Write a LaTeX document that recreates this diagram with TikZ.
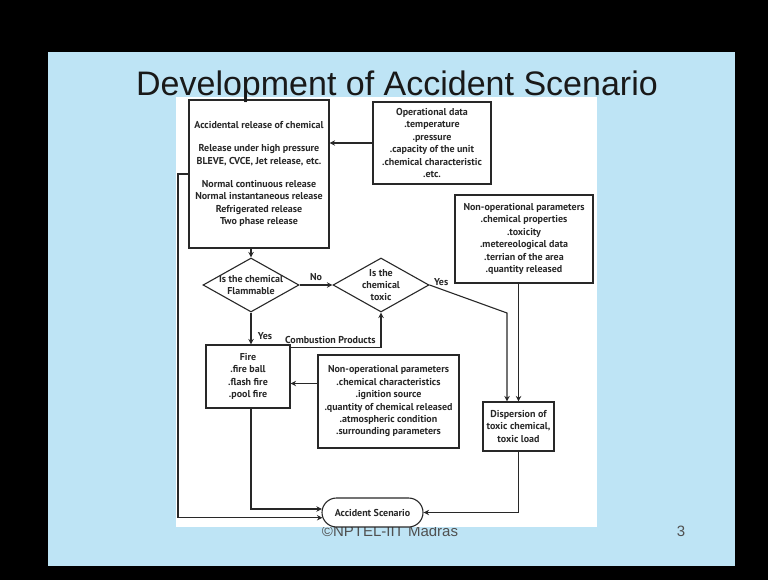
\documentclass[tikz,border=0pt]{standalone}
\usepackage{fontspec}
\setmainfont{PT Sans}
\newfontfamily\titlefont{Liberation Sans}
\usetikzlibrary{shapes.geometric,shapes.misc,arrows.meta}
\definecolor{slideblue}{RGB}{190,228,245}
\definecolor{ink}{RGB}{40,40,40}
\definecolor{footgrey}{RGB}{80,80,80}
\tikzset{
  box/.style={draw=ink, line width=1.1pt, align=center, inner sep=0pt,
    font=\bfseries\fontsize{10}{12.4}\selectfont},
  decision/.style={diamond, draw=ink, line width=1.1pt, inner sep=0pt,
    minimum width=96pt, minimum height=54pt},
  inside/.style={align=center, font=\bfseries\fontsize{10}{12}\selectfont},
  lbl/.style={font=\bfseries\fontsize{10}{11}\selectfont},
}
\begin{document}
\begin{tikzpicture}[x=1pt, y=-1pt, color=ink, line width=1.1pt,
    >={Stealth[length=5.5pt,width=5.5pt]}]
  \useasboundingbox (0,0) rectangle (768,580);
  % slide
  \fill[black] (0,0) rectangle (768,580);
  \fill[slideblue] (48,52) rectangle (735,566);
  \node[font=\titlefont\fontsize{15}{18}\selectfont, text=footgrey, anchor=base] (footer) at (390,536) {©NPTEL-IIT Madras};
  \node[font=\titlefont\fontsize{15}{18}\selectfont, text=footgrey, anchor=base] (pageno) at (681,536) {3};
  \fill[white] (176,97) rectangle (597,527);

  % boxes
  \node[box, minimum width=140pt, minimum height=148pt] (release) at (259,174)
    {Accidental release of chemical\\[11pt] Release under high pressure\\ BLEVE, CVCE, Jet release, etc.\\[11pt]
     Normal continuous release\\ Normal instantaneous release\\ Refrigerated release\\ Two phase release};
  \node[box, minimum width=118pt, minimum height=82pt] (opdata) at (432,143)
    {Operational data\\ .temperature\\ .pressure\\ .capacity of the unit\\ .chemical characteristic\\ .etc.};
  \node[box, minimum width=138pt, minimum height=88pt] (toxparam) at (524,239)
    {Non-operational parameters\\ .chemical properties\\ .toxicity\\ .metereological data\\ .terrian of the area\\ .quantity released};
  \node[decision, label={[inside]center:Is the chemical\\ Flammable}] (flam) at (251,285) {};
  \node[decision, label={[inside]center:Is the\\ chemical\\ toxic}] (tox) at (381,285) {};
  \node[box, minimum width=84pt, minimum height=63pt] (fire) at (248,376.5)
    {Fire\\ .fire ball\\ .flash fire\\ .pool fire};
  \node[box, minimum width=141pt, minimum height=93pt] (fireparam) at (388.5,401.5)
    {Non-operational parameters\\ .chemical characteristics\\ .ignition source\\ .quantity of chemical released\\ .atmospheric condition\\ .surrounding parameters};
  \node[box, minimum width=71pt, minimum height=49pt] (disp) at (518.5,426.5)
    {Dispersion of\\ toxic chemical,\\ toxic load};
  \node[box, rounded rectangle, minimum width=101pt, minimum height=29pt] (scen) at (372.5,512.5)
    {Accident Scenario};
  \coordinate (lft) at (178,174);
  \coordinate (bend) at (507,313);

  % connectors
  \draw[->] (opdata.west) -- (opdata.west -| release.east);
  \draw[->] (flam.north |- release.south) -- (flam.north);
  \draw[->] (flam.east) to node[lbl, above] {No} (tox.west);
  \draw[->] (flam.south) to node[lbl, right=3pt, pos=0.75] {Yes} (flam.south |- fire.north);
  \draw[->] ([yshift=-3pt]fire.north east) -| node[lbl, above, pos=0.22] {Combustion Products} (tox.south);
  \draw[->] ([yshift=18pt]fireparam.west) -- ([yshift=18pt]fireparam.west -| fire.east);
  \draw[->] (tox.east) -- node[lbl, above, pos=0.15] {Yes} (bend) -- (bend |- disp.north);
  \draw[->] (toxparam.south -| disp.north) -- (disp.north);
  \draw[->] (release.west) -- (lft) |- (scen.186);
  \draw[->] (fire.south -| flam.south) |- (scen.176);
  \draw[->] (disp.south) |- (scen.east);

  \node[font=\titlefont\fontsize{34}{40}\selectfont, text=black!90, anchor=base] (title) at (397,96)
    {Development of Accident Scenario};
\end{tikzpicture}
\end{document}
